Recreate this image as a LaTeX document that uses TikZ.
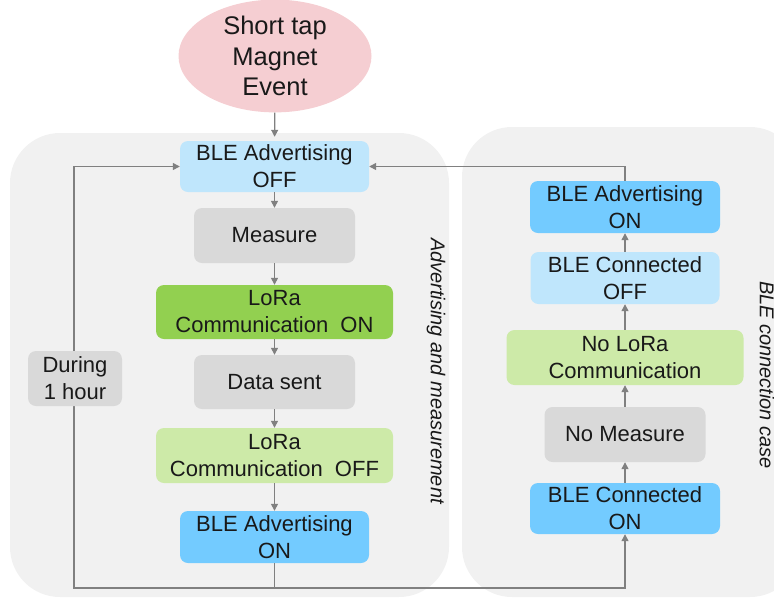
\documentclass[tikz,border=0pt]{standalone}
\usepackage{fontspec}
\setmainfont{Liberation Sans}
\usetikzlibrary{shapes.geometric,arrows.meta}
\definecolor{panel}{HTML}{F1F1F1}
\definecolor{bleoff}{HTML}{BFE6FC}
\definecolor{bleon}{HTML}{73CBFF}
\definecolor{grey}{HTML}{D9D9D9}
\definecolor{loraon}{HTML}{92D050}
\definecolor{loraoff}{HTML}{CDEAA8}
\definecolor{event}{HTML}{F5CED2}
\definecolor{wire}{HTML}{808080}
\tikzset{
  box/.style={rounded corners=8pt, inner sep=0pt, align=center,
    font=\fontsize{22}{27}\selectfont, text=black!90},
  wirel/.style={draw=wire, line width=1.3pt},
  arr/.style={wirel, -{Triangle[length=7pt,width=7pt]}},
  side/.style={font=\fontsize{20}{24}\selectfont\itshape, text=black!90, rotate=-90}
}
\begin{document}
\begin{tikzpicture}[x=1pt,y=-1pt]
\useasboundingbox (0,0) rectangle (774,598);
% panels
\fill[panel, rounded corners=50pt] (10,133) rectangle (449,597);
\fill[panel, rounded corners=50pt] (462,127) rectangle (800,597);
\node[side] (lbl1) at (436,371) {Advertising and measurement};
\node[side] (lbl2) at (767,375) {BLE connection case};

% trigger
\node[ellipse, fill=event, minimum width=193pt, minimum height=106pt, inner sep=0pt,
  align=center, font=\fontsize{25.5}{30.5}\selectfont, text=black!90] (ev) at (275,56) {Short tap\\Magnet\\Event};

% left column
\node[box, fill=bleoff, minimum width=189pt, minimum height=51pt] (advoff) at (274.5,166.5) {BLE Advertising\\OFF};
\node[box, fill=grey, minimum width=161pt, minimum height=55pt] (meas) at (274.5,235.5) {Measure};
\node[box, fill=loraon, minimum width=237pt, minimum height=54pt] (lon) at (274.5,312) {LoRa\\Communication\ \ ON};
\node[box, fill=grey, minimum width=161pt, minimum height=54pt] (sent) at (274.5,382) {Data sent};
\node[box, fill=loraoff, minimum width=237pt, minimum height=55pt] (loff) at (274.5,455.5) {LoRa\\Communication\ \ OFF};
\node[box, fill=bleon, minimum width=189pt, minimum height=52pt] (advon) at (274.5,537) {BLE Advertising\\ON};

% right column
\node[box, fill=bleon, minimum width=190pt, minimum height=52pt] (radvon) at (625,207) {BLE Advertising\\ON};
\node[box, fill=bleoff, minimum width=189pt, minimum height=52pt] (coff) at (625,278) {BLE Connected\\OFF};
\node[box, fill=loraoff, minimum width=237pt, minimum height=55pt] (nolora) at (625,357.5) {No LoRa\\Communication};
\node[box, fill=grey, minimum width=161pt, minimum height=55pt] (nomeas) at (625,434.5) {No Measure};
\node[box, fill=bleon, minimum width=190pt, minimum height=51pt] (con) at (625,508.5) {BLE Connected\\ON};

% loop corners
\coordinate (j) at (274.5,588);
\coordinate (bl) at (74,588);

% vertical chain, left
\draw[arr, shorten >=4pt] (ev) -- (advoff);
\draw[arr] (advoff) -- (meas);
\draw[arr] (meas) -- (lon);
\draw[arr] (lon) -- (sent);
\draw[arr] (sent) -- (loff);
\draw[arr] (loff) -- (advon);

% vertical chain, right
\draw[arr] (con) -- (nomeas);
\draw[arr] (nomeas) -- (nolora);
\draw[arr] (nolora) -- (coff);
\draw[arr] (coff) -- (radvon);

% return paths
\draw[wirel] (advon.south) -- (j);
\draw[arr] (j) -- (bl) |- (advoff.west);
\draw[arr] (j) -| (con.south);
\draw[arr] (radvon.north) |- (advoff.east);

% label on the hourly loop
\node[box, fill=grey, minimum width=94pt, minimum height=55pt] (hour) at (75,378.5) {During\\1 hour};
\end{tikzpicture}
\end{document}
